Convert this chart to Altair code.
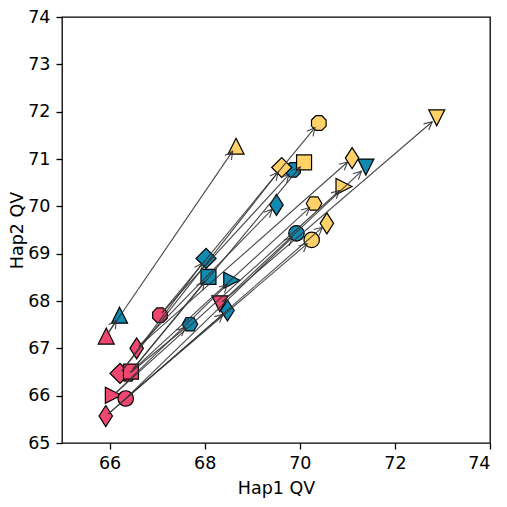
import math
import altair as alt
import pandas as pd

# ---- data ----
samples = ["triangle-up", "thin-diamond-a", "thin-diamond-b", "hexagon", "diamond",
           "square", "triangle-right", "circle", "octagon", "triangle-down"]
pink_x = [65.93, 66.57, 65.92, 66.39, 66.22, 66.45, 66.08, 66.34, 67.06, 68.32]
pink_y = [67.26, 67.00, 65.57, 66.45, 66.47, 66.51, 66.01, 65.94, 67.70, 67.94]
blue_x = [66.21, 69.51, 68.48, 67.69, 68.03, 68.08, 68.57, 69.93, 69.86, 71.39]
blue_y = [67.70, 70.03, 67.80, 67.51, 68.90, 68.51, 68.44, 69.43, 70.77, 70.83]
yellow_x = [68.66, 71.10, 70.57, 70.30, 69.62, 70.09, 70.93, 70.25, 70.40, 72.88]
yellow_y = [71.27, 71.02, 69.64, 70.06, 70.82, 70.93, 70.42, 69.29, 71.76, 71.87]
x_ticks = [66, 68, 70, 72, 74]
y_ticks = [65, 66, 67, 68, 69, 70, 71, 72, 73, 74]

PINK, BLUE, YELLOW = "#EF476F", "#118AB2", "#FFD166"

W, H = 428, 426
XMIN, XMAX, YMIN, YMAX = 65, 74, 65, 74
sx, sy = W / (XMAX - XMIN), H / (YMAX - YMIN)

shape_paths = {
    "triangle-up": "M0,-1 L1,1 L-1,1 Z",
    "triangle-down": "M0,1 L1,-1 L-1,-1 Z",
    "triangle-right": "M1,0 L-1,-1 L-1,1 Z",
    "square": "square",
    "circle": "circle",
    "diamond": "diamond",
    "thin-diamond-a": "M0,-1 L0.64,0 L0,1 L-0.64,0 Z",
    "thin-diamond-b": "M0,-1 L0.64,0 L0,1 L-0.64,0 Z",
    "hexagon": "M1,0 L0.5,0.866 L-0.5,0.866 L-1,0 L-0.5,-0.866 L0.5,-0.866 Z",
    "octagon": "M0.924,0.383 L0.383,0.924 L-0.383,0.924 L-0.924,0.383 L-0.924,-0.383 L-0.383,-0.924 L0.383,-0.924 L0.924,-0.383 Z",
}
shape_sizes = {
    "triangle-up": 256, "triangle-down": 256, "triangle-right": 256,
    "square": 225, "circle": 240, "diamond": 400,
    "thin-diamond-a": 441, "thin-diamond-b": 441,
    "hexagon": 240, "octagon": 250,
}

rows = []
for col, xs, ys in [(PINK, pink_x, pink_y), (BLUE, blue_x, blue_y), (YELLOW, yellow_x, yellow_y)]:
    for s, xv, yv in zip(samples, xs, ys):
        rows.append({"x": xv, "y": yv, "fill": col, "shape": shape_paths[s], "size": shape_sizes[s]})
pts = pd.DataFrame(rows)

arrows = []
for i, s in enumerate(samples):
    for tx, ty in [(blue_x[i], blue_y[i]), (yellow_x[i], yellow_y[i])]:
        x0, y0 = pink_x[i], pink_y[i]
        dxp, dyp = (tx - x0) * sx, (ty - y0) * sy
        L = math.hypot(dxp, dyp)
        ux, uy = dxp / L, dyp / L
        start_off, end_off = 3.0, 6.0
        ax0 = x0 + ux * start_off / sx
        ay0 = y0 + uy * start_off / sy
        ax1 = tx - ux * end_off / sx
        ay1 = ty - uy * end_off / sy
        ang = math.degrees(math.atan2(-dyp, dxp)) % 360
        arrows.append({"x": ax0, "y": ay0, "x2": ax1, "y2": ay1, "angle": ang})
arr = pd.DataFrame(arrows)

xscale = alt.Scale(domain=[XMIN, XMAX], nice=False, zero=False)
yscale = alt.Scale(domain=[YMIN, YMAX], nice=False, zero=False)
xaxis = alt.Axis(title="Hap1 QV", values=x_ticks, grid=False, domain=False,
                 labelPadding=5, titlePadding=8)
yaxis = alt.Axis(title="Hap2 QV", values=y_ticks, grid=False, domain=False,
                 labelPadding=6, titlePadding=1)

points = alt.Chart(pts).mark_point(filled=True, opacity=1, stroke="black", strokeWidth=1.2).encode(
    x=alt.X("x:Q", scale=xscale, axis=xaxis),
    y=alt.Y("y:Q", scale=yscale, axis=yaxis),
    fill=alt.Fill("fill:N", scale=None),
    shape=alt.Shape("shape:N", scale=None),
    size=alt.Size("size:Q", scale=None),
)

lines = alt.Chart(arr).mark_rule(color="#333333", strokeWidth=1.1, opacity=0.9).encode(
    x=alt.X("x:Q", scale=xscale), y=alt.Y("y:Q", scale=yscale),
    x2="x2:Q", y2="y2:Q",
)

heads = alt.Chart(arr).mark_point(
    shape="M-1,-0.5 L0,0 L-1,0.5", filled=False, stroke="#333333", strokeWidth=1.1,
    opacity=0.9, size=256,
).encode(
    x=alt.X("x2:Q", scale=xscale), y=alt.Y("y2:Q", scale=yscale),
    angle=alt.Angle("angle:Q", scale=None),
)

chart = alt.layer(points, lines, heads).properties(
    width=W, height=H,
    title=alt.TitleParams("(high confidence regions)", fontSize=21, font="DejaVu Sans",
                          fontWeight="normal", anchor="middle", baseline="alphabetic",
                          offset=5, color="black"),
    padding={"left": 54, "top": 9, "right": 9, "bottom": 62},
    autosize="none",
).configure_view(stroke="black", strokeWidth=1.3).configure_axis(
    labelFont="DejaVu Sans", titleFont="DejaVu Sans", labelFontSize=17.5, titleFontSize=17.5,
    titleFontWeight="normal", labelColor="black", titleColor="black",
    tickColor="black", tickSize=6, tickWidth=1.3,
)

chart.save("out.html", embed_options={"renderer": "svg", "actions": False})
